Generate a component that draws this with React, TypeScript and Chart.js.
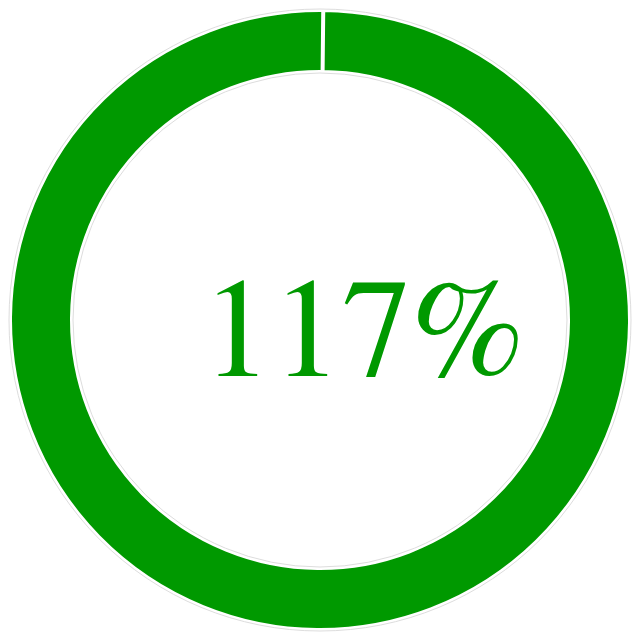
import React, { useEffect, useRef } from "react";
import { Chart, registerables } from "chart.js";

Chart.register(...registerables);

const labels: string[] = ["Progress"];
const values: number[] = [100];
const displayText = "117%";
const green = "#009900";

export default function App() {
  const ref = useRef<HTMLCanvasElement | null>(null);
  useEffect(() => {
    if (!ref.current) return;
    const outline = {
      id: "outline",
      afterDatasetsDraw(chart: any) {
        const arc = chart.getDatasetMeta(0).data[0] as any;
        if (!arc) return;
        const { ctx } = chart;
        ctx.save();
        ctx.strokeStyle = "#dddddd";
        ctx.lineWidth = 1;
        ctx.beginPath();
        ctx.arc(arc.x, arc.y, arc.outerRadius + 1, 0, Math.PI * 2);
        ctx.stroke();
        ctx.beginPath();
        ctx.arc(arc.x, arc.y, arc.innerRadius - 1, 0, Math.PI * 2);
        ctx.stroke();
        ctx.restore();
      },
    };
    const chart = new Chart(ref.current, {
      type: "doughnut",
      data: {
        labels,
        datasets: [
          {
            data: values,
            backgroundColor: [green],
            borderColor: "#ffffff",
            borderWidth: 4,
          },
        ],
      },
      options: {
        responsive: true,
        maintainAspectRatio: true,
        aspectRatio: 1,
        animation: false,
        rotation: 0.6,
        cutout: "80%",
        plugins: { legend: { display: false }, tooltip: { enabled: false } },
      },
      plugins: [outline],
    });
    return () => chart.destroy();
  }, []);
  return (
    <div style={{ width: 624, height: 624, position: "relative" }}>
      <canvas ref={ref} />
      <div
        style={{
          position: "absolute",
          left: 194,
          top: 256,
          fontFamily: 'FreeSerif, serif',
          fontSize: 140,
          lineHeight: 1,
          color: green,
          whiteSpace: "nowrap",
          pointerEvents: "none",
        }}
      >
        {displayText}
      </div>
    </div>
  );
}
